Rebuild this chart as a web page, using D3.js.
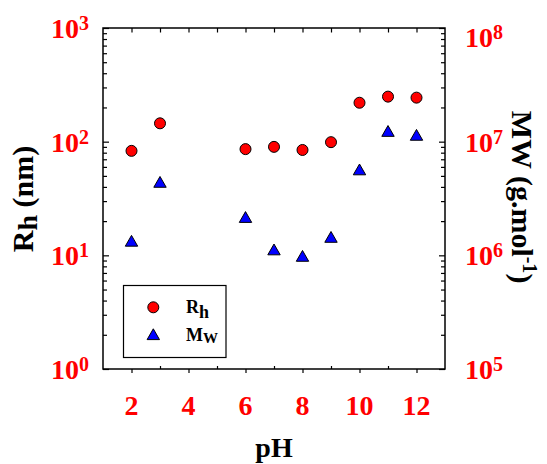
<!DOCTYPE html>
<html>
<head>
<meta charset="utf-8">
<script src="https://cdn.jsdelivr.net/npm/d3@7/dist/d3.min.js"></script>
<style>
  html, body { margin: 0; padding: 0; background: #fff; }
  svg { display: block; }
  text { font-family: "Liberation Serif", "Times New Roman", serif; font-weight: bold; }
</style>
</head>
<body>
<svg id="chart" width="547" height="464"></svg>
<script>
// pH values shared by both series
const pH = [2, 3, 6, 7, 8, 9, 10, 11, 12];
// hydrodynamic radius, nm (left axis)
const rh = [83, 145, 86, 90, 84.5, 99, 220, 249, 244];
// molar mass, g/mol (right axis)
const mw = [1.34e6, 4.42e6, 2.17e6, 1.125e6, 9.87e5, 1.45e6, 5.69e6, 1.24e7, 1.146e7];

const xMajor = [2, 4, 6, 8, 10, 12];
const leftDecades = [1, 10, 100, 1000];
const rightDecades = [1e5, 1e6, 1e7, 1e8];

const svg = d3.select("#chart");
const L = 103, R = 445, T = 28, B = 369;

const x = d3.scaleLinear().domain([1, 13]).range([L, R]);
const yL = d3.scaleLog().domain([1, 1000]).range([B, T]);
const yR = d3.scaleLog().domain([1e5, 1e8]).range([B, T]);

const red = "#ff0000", blue = "#0000ff";

// frame
svg.append("rect")
  .attr("x", L).attr("y", T).attr("width", R - L).attr("height", B - T)
  .attr("fill", "none").attr("stroke", "#000").attr("stroke-width", 1.5);

function logMinor(scale) {
  return scale.ticks().filter(v => {
    const m = v / Math.pow(10, Math.floor(Math.log10(v) + 1e-9));
    return Math.abs(m - 1) > 1e-6;
  });
}

function styleAxis(g) {
  g.select(".domain").remove();
  g.selectAll(".tick line").attr("stroke", "#000").attr("stroke-width", 1.2);
  g.selectAll(".tick text").remove();
}

// left axis: decade ticks and minor ticks, drawn inward
svg.append("g").attr("transform", `translate(${L},0)`)
  .call(d3.axisLeft(yL).tickValues(leftDecades).tickSize(-6)).call(styleAxis);
svg.append("g").attr("transform", `translate(${L},0)`)
  .call(d3.axisLeft(yL).tickValues(logMinor(yL)).tickSize(-4)).call(styleAxis);

// right axis
svg.append("g").attr("transform", `translate(${R},0)`)
  .call(d3.axisRight(yR).tickValues(rightDecades).tickSize(-6)).call(styleAxis);
svg.append("g").attr("transform", `translate(${R},0)`)
  .call(d3.axisRight(yR).tickValues(logMinor(yR)).tickSize(-4)).call(styleAxis);

// bottom axis: major ticks outward, minor ticks inward
svg.append("g").attr("transform", `translate(0,${B})`)
  .call(d3.axisBottom(x).tickValues(xMajor).tickSize(4)).call(styleAxis);
svg.append("g").attr("transform", `translate(0,${B})`)
  .call(d3.axisBottom(x).tickValues(d3.range(3, 13, 2)).tickSize(-3)).call(styleAxis);

// top axis: every unit, inward
svg.append("g").attr("transform", `translate(0,${T})`)
  .call(d3.axisTop(x).tickValues(d3.range(2, 13)).tickSize(-4.5)).call(styleAxis);

// power-of-ten labels
function powerLabel(xPos, yPos, exp, anchor) {
  const t = svg.append("text")
    .attr("x", xPos).attr("y", yPos)
    .attr("text-anchor", anchor)
    .attr("fill", red).attr("font-size", 28);
  t.append("tspan").text("10");
  t.append("tspan").attr("font-size", 20).attr("dy", -8).text(exp);
}
leftDecades.forEach(v => powerLabel(89, yL(v) + 10, Math.round(Math.log10(v)), "end"));
rightDecades.forEach(v => powerLabel(465, Math.max(yR(v) + 10, 47), Math.round(Math.log10(v)), "start"));

// x tick labels
svg.append("g").selectAll("text").data(xMajor).join("text")
  .attr("x", d => x(d)).attr("y", 415)
  .attr("text-anchor", "middle").attr("fill", red).attr("font-size", 28)
  .text(d => d);

// axis titles
svg.append("text")
  .attr("x", (L + R) / 2).attr("y", 457)
  .attr("text-anchor", "middle").attr("font-size", 28).attr("fill", "#000")
  .text("pH");

const lt = svg.append("text")
  .attr("transform", "translate(33,199) rotate(-90)")
  .attr("text-anchor", "middle").attr("font-size", 30).attr("fill", "#000");
lt.append("tspan").text("R");
lt.append("tspan").attr("font-size", 28).attr("dy", 4).text("h");
lt.append("tspan").attr("dy", -4).text(" (nm)");

const rt = svg.append("text")
  .attr("transform", "translate(512,197) rotate(90)")
  .attr("text-anchor", "middle").attr("font-size", 30).attr("fill", "#000");
rt.append("tspan").text("MW (g.mol");
rt.append("tspan").attr("font-size", 20).attr("dy", -11).text("-1");
rt.append("tspan").attr("dy", 11).text(")");

// markers
const tri = "M0,-5.5L6.2,5.3L-6.2,5.3Z";

svg.append("g").selectAll("circle").data(pH.map((p, i) => [p, rh[i]])).join("circle")
  .attr("cx", d => x(d[0])).attr("cy", d => yL(d[1])).attr("r", 5.5)
  .attr("fill", red).attr("stroke", "#000").attr("stroke-width", 1);

svg.append("g").selectAll("path").data(pH.map((p, i) => [p, mw[i]])).join("path")
  .attr("d", tri)
  .attr("transform", d => `translate(${x(d[0])},${yR(d[1])})`)
  .attr("fill", blue).attr("stroke", "#000").attr("stroke-width", 1);

// legend
const lg = svg.append("g");
lg.append("rect")
  .attr("x", 123.5).attr("y", 285.5).attr("width", 102.5).attr("height", 72)
  .attr("fill", "#fff").attr("stroke", "#000").attr("stroke-width", 1.2);
lg.append("circle").attr("cx", 153.3).attr("cy", 307.3).attr("r", 5.5)
  .attr("fill", red).attr("stroke", "#000").attr("stroke-width", 1);
lg.append("path").attr("d", tri).attr("transform", "translate(153.3,334.3)")
  .attr("fill", blue).attr("stroke", "#000").attr("stroke-width", 1);
const l1 = lg.append("text").attr("x", 186).attr("y", 312.7).attr("font-size", 18).attr("fill", "#000");
l1.append("tspan").text("R");
l1.append("tspan").attr("font-size", 18).attr("dy", 5.5).text("h");
const l2 = lg.append("text").attr("x", 186).attr("y", 341).attr("font-size", 18).attr("fill", "#000");
l2.append("tspan").text("M");
l2.append("tspan").attr("font-size", 15).attr("dy", 2).text("W");
</script>
</body>
</html>
